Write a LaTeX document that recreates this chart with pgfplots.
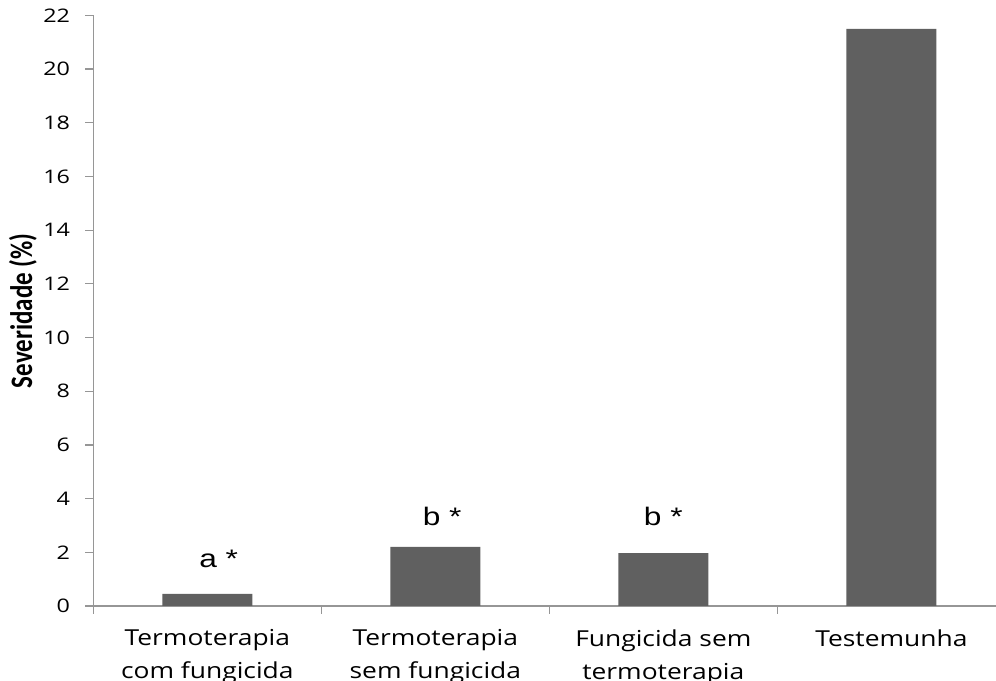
\documentclass[border=0pt]{standalone}
\usepackage{fontspec}
\setmainfont{Open Sans}
\newfontfamily\ticky[FakeStretch=1.25]{Open Sans}
\newfontfamily\xticky[FakeStretch=1.2]{Open Sans}
\newfontfamily\annot[FakeStretch=1.25]{Liberation Sans}
\newfontfamily\ylab{Carlito}
\usepackage{graphicx}
\usepackage{pgfplots}
\pgfplotsset{compat=1.18}
\usetikzlibrary{calc}
\definecolor{barc}{RGB}{96,96,96}
\definecolor{axc}{RGB}{150,150,150}
\begin{document}
\begin{tikzpicture}
\begin{axis}[
  name=ax, at={(0,0)}, anchor=south west,
  scale only axis, width=677pt, height=443pt,
  xmin=-0.5, xmax=3.459, ymin=0, ymax=22,
  axis x line*=bottom, axis y line*=left,
  axis line style={draw=axc, line width=0.9pt},
  ytick={0,2,...,22},
  yticklabels={0,2,4,6,8,10,12,14,16,18,20,22},
  xtick={-0.5,0.5,1.5,2.5},
  xticklabels={},
  extra x ticks={0,1,2,3},
  extra x tick labels={{Termoterapia\\com fungicida},{Termoterapia\\sem fungicida},{Fungicida sem\\termoterapia},{Testemunha}},
  extra x tick style={major tick length=0pt},
  tick align=outside,
  major tick length=6pt,
  tick style={axc, line width=0.9pt},
  yticklabel style={font=\fontsize{14}{16}\ticky, text=black, xshift=-8pt},
  xticklabel style={font=\fontsize{16.5}{25}\xticky, text=black, align=center, yshift=-14pt},
  every axis y label/.style={at={(axis description cs:0,0.5)}, anchor=center, rotate=90, yshift=52.75pt},
  ylabel={\scalebox{1}[1.25]{\fontsize{18.75}{20}\ylab\bfseries Severidade (\%)}},
  clip=false,
]
\addplot[ybar, bar width=67.5pt, fill=barc, draw=none] coordinates {(0,0.45) (1,2.2) (2,1.97) (3,21.5)};
\node[anchor=base, inner sep=0pt, font=\fontsize{19}{20}\annot] at (axis cs:0.05,1.42) {a *};
\node[anchor=base, inner sep=0pt, font=\fontsize{19}{20}\annot] at (axis cs:1.03,3.01) {b *};
\node[anchor=base, inner sep=0pt, font=\fontsize{19}{20}\annot] at (axis cs:2.0,3.01) {b *};
\end{axis}
\pgfresetboundingbox
\path[use as bounding box] ($(ax.south west)+(-70pt,-56.25pt)$) rectangle ($(ax.north east)+(0,11.5pt)$);
\end{tikzpicture}
\end{document}
